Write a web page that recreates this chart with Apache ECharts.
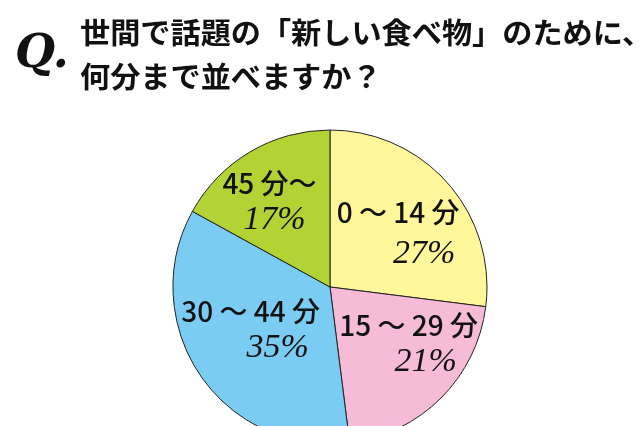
<!DOCTYPE html>
<html><head><meta charset="utf-8">
<script src="https://cdn.jsdelivr.net/npm/echarts@6/dist/echarts.min.js"></script>
<style>html,body{margin:0;padding:0;background:#fff}#c{width:639px;height:426px}</style>
</head><body><div id="c"></div>
<script>
const titleLines = ['世間で話題の「新しい食べ物」のために、', '何分まで並べますか？'];
const categories = ['0 ～ 14 分', '15 ～ 29 分', '30 ～ 44 分', '45 分～'];
const values = [27, 21, 35, 17];

const palette = ['#FFF799', '#F6BBD6', '#7ACCF2', '#B3D234'];
const labelOffsets = [[7, 0], [21, -1], [-12, -3], [-19, -15]];
const pctShift = [52, 34, 54, 10];
const lineGap = [42, 37, 37, 37];

function makeRich(pad, lh) {
  return {
    n: { fontFamily: '"Noto Sans CJK JP", sans-serif', fontWeight: 500, fontSize: 28, color: '#111', lineHeight: lh },
    p: { fontFamily: '"Liberation Serif", serif', fontStyle: 'italic', fontSize: 34, color: '#111', lineHeight: lh, padding: [0, 0, 0, pad] }
  };
}

const chart = echarts.init(document.getElementById('c'), null, { renderer: 'canvas' });
chart.setOption({
  animation: false,
  color: palette,
  graphic: [{
    type: 'text', x: 80, y: 11, scaleX: 1.04,
    style: { text: titleLines.join('\n'), font: 'bold 29px "Noto Sans CJK JP", sans-serif', lineHeight: 44, fill: '#111' }
  }, {
    type: 'text', x: 15, y: 32,
    style: { text: 'Q.', font: 'italic bold 46px "DejaVu Serif", serif', fill: '#111' }
  }],
  series: [{
    type: 'pie',
    center: [330, 287],
    radius: 157,
    startAngle: 90,
    clockwise: true,
    avoidLabelOverlap: false,
    itemStyle: { borderColor: '#222', borderWidth: 1 },
    labelLine: { show: false },
    label: {
      show: true, position: 'inside', overflow: 'none',
      formatter: p => '{n|' + p.name + '}\n{p|' + p.value + '%}'
    },
    emphasis: { disabled: true },
    data: categories.map((c, i) => ({
      name: c, value: values[i],
      label: { offset: labelOffsets[i], rich: makeRich(pctShift[i], lineGap[i]) }
    }))
  }]
});
</script></body></html>
